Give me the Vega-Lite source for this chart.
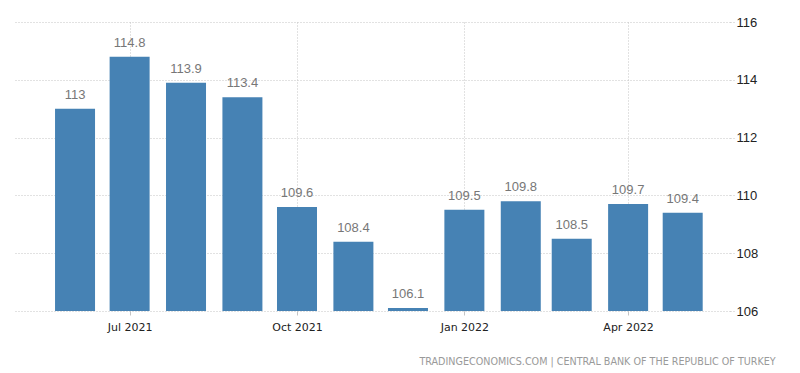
{
  "$schema": "https://vega.github.io/schema/vega-lite/v6.json",
  "autosize": "none",
  "width": 715,
  "height": 289,
  "padding": {"left": 15, "top": 22, "right": 70, "bottom": 62},
  "background": "white",
  "data": {"values": [
    {"date": "2021-06-01", "value": 113},
    {"date": "2021-07-01", "value": 114.8},
    {"date": "2021-08-01", "value": 113.9},
    {"date": "2021-09-01", "value": 113.4},
    {"date": "2021-10-01", "value": 109.6},
    {"date": "2021-11-01", "value": 108.4},
    {"date": "2021-12-01", "value": 106.1},
    {"date": "2022-01-01", "value": 109.5},
    {"date": "2022-02-01", "value": 109.8},
    {"date": "2022-03-01", "value": 108.5},
    {"date": "2022-04-01", "value": 109.7},
    {"date": "2022-05-01", "value": 109.4}
  ]},
  "title": {
    "text": "TRADINGECONOMICS.COM | CENTRAL BANK OF THE REPUBLIC OF TURKEY",
    "orient": "bottom",
    "anchor": "end",
    "dx": 18,
    "offset": 25,
    "font": "DejaVu Sans",
    "fontSize": 9.6,
    "fontWeight": "normal",
    "color": "#9a9a9a"
  },
  "config": {
    "view": {"stroke": null},
    "axis": {"domain": false}
  },
  "encoding": {
    "x": {
      "field": "date",
      "type": "temporal",
      "scale": {"domain": ["2021-04-29", "2022-05-27"], "padding": 0},
      "axis": {
        "title": null,
        "values": ["2021-07-01", "2021-10-01", "2022-01-01", "2022-04-01"],
        "format": "%b %Y",
        "labelFont": "DejaVu Sans",
        "labelFontSize": 11,
        "labelColor": "#222222",
        "labelPadding": 6,
        "grid": true,
        "gridColor": "#c4c4c4",
        "gridDash": [1, 2],
        "ticks": true,
        "tickColor": "#c4c4c4",
        "tickSize": 4
      }
    }
  },
  "layer": [
    {
      "mark": {"type": "bar", "size": 40, "color": "#4682B4"},
      "encoding": {
        "y": {
          "field": "value",
          "type": "quantitative",
          "scale": {"domain": [106, 116], "zero": false, "nice": false},
          "axis": {
            "orient": "right",
            "title": null,
            "values": [106, 108, 110, 112, 114, 116],
            "labelFont": "Liberation Sans",
            "labelFontSize": 13,
            "labelColor": "#222222",
            "labelPadding": 2,
            "grid": true,
            "gridColor": "#c4c4c4",
            "gridDash": [1, 2],
            "ticks": true,
            "tickColor": "#c4c4c4",
            "tickDash": [1, 2],
            "tickSize": 4
          }
        },
        "y2": {"datum": 106}
      }
    },
    {
      "mark": {"type": "text", "baseline": "bottom", "dy": -7, "font": "Liberation Sans", "fontSize": 13, "color": "#777777"},
      "encoding": {
        "y": {"field": "value", "type": "quantitative"},
        "text": {"field": "value", "type": "quantitative", "format": "~r"}
      }
    }
  ]
}
